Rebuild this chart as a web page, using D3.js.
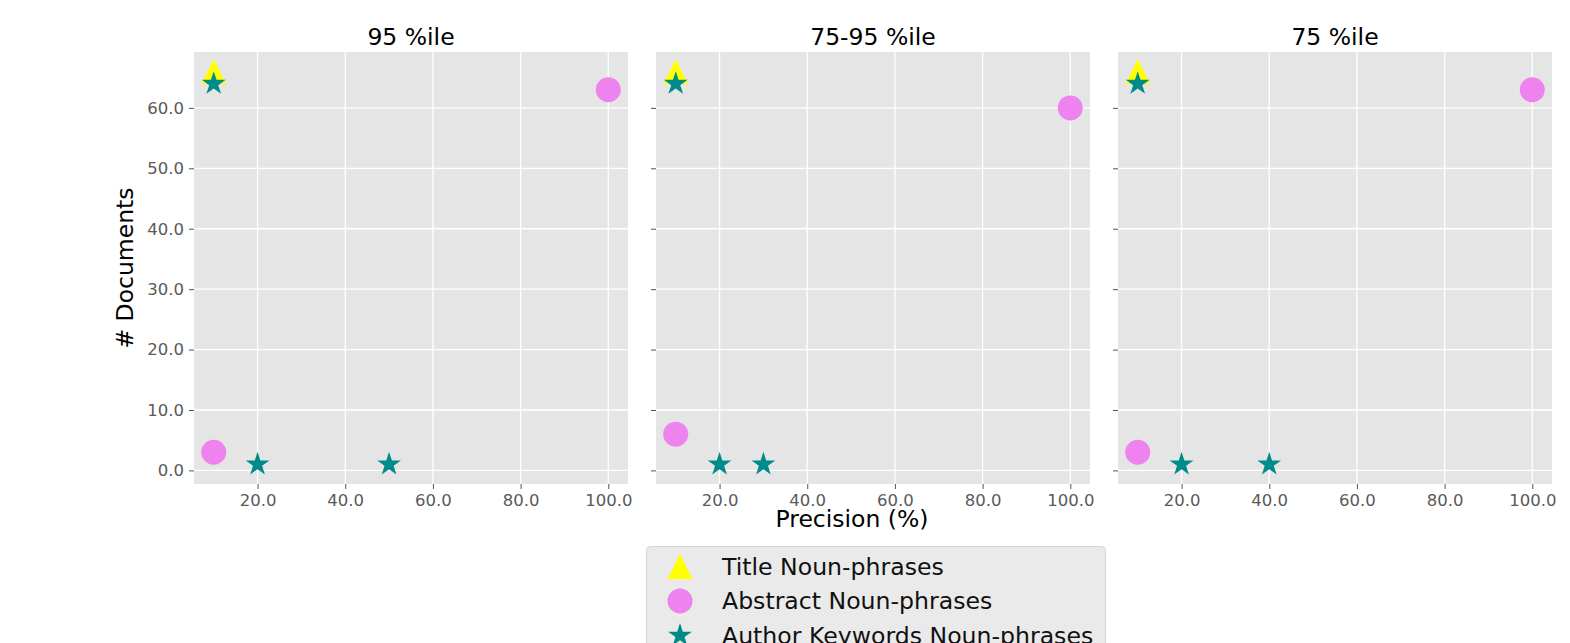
<!DOCTYPE html>
<meta charset="utf-8">
<script src="https://d3js.org/d3.v7.min.js"></script>
<style>
  body { margin: 0; background: #fff; }
  text { font-family: "DejaVu Sans", sans-serif; }
</style>
<div id="my_dataviz"></div>
<script>

// data
const panelTitles = ["95 %ile", "75-95 %ile", "75 %ile"];
const seriesNames = ["Title Noun-phrases", "Abstract Noun-phrases", "Author Keywords Noun-phrases"];
const seriesColors = ["#ffff00", "#ee82ee", "#008b8b"];

const titleX = [[10], [10], [10]];
const titleY = [[66], [66], [66]];
const abstractX = [[10, 100], [10, 100], [10, 100]];
const abstractY = [[3, 63], [6, 60], [3, 63]];
const keywordX = [[10, 20, 50], [10, 20, 30], [10, 20, 40]];
const keywordY = [[64, 1, 1], [64, 1, 1], [64, 1, 1]];

const xTicks = [20, 40, 60, 80, 100];
const yTicks = [0, 10, 20, 30, 40, 50, 60];

// layout
const W = 1570, H = 643;
const panelLeft = [194, 656, 1118];
const panelW = 434, plotTop = 52, panelH = 432;

const svg = d3.select("#my_dataviz")
    .append("svg")
    .attr("width", W)
    .attr("height", H);

// matplotlib-like marker shapes (all 25px across)
const ms = 25;
const triangleUp = {
  draw(ctx, size) {
    const r = Math.sqrt(size) / 2;
    ctx.moveTo(0, -r); ctx.lineTo(r, r); ctx.lineTo(-r, r); ctx.closePath();
  }
};
const circle = {
  draw(ctx, size) {
    const r = Math.sqrt(size) / 2;
    ctx.moveTo(r, 0); ctx.arc(0, 0, r, 0, 2 * Math.PI);
  }
};
const star = {
  draw(ctx, size) {
    const R = Math.sqrt(size) / 2, ri = R * 0.381966;
    for (let i = 0; i < 10; i++) {
      const a = -Math.PI / 2 + i * Math.PI / 5;
      const r = i % 2 ? ri : R;
      if (i === 0) ctx.moveTo(r * Math.cos(a), r * Math.sin(a));
      else ctx.lineTo(r * Math.cos(a), r * Math.sin(a));
    }
    ctx.closePath();
  }
};
const shapes = [triangleUp, circle, star];
const seriesX = [titleX, abstractX, keywordX];
const seriesY = [titleY, abstractY, keywordY];

const y = d3.scaleLinear().domain([-2.25, 69.25]).range([plotTop + panelH, plotTop]);

panelTitles.forEach((title, p) => {
  const x = d3.scaleLinear().domain([5.5, 104.5]).range([panelLeft[p], panelLeft[p] + panelW]);
  const g = svg.append("g");

  g.append("rect")
      .attr("x", panelLeft[p]).attr("y", plotTop)
      .attr("width", panelW).attr("height", panelH)
      .attr("fill", "#e5e5e5");

  // grid
  g.selectAll("vgrid").data(xTicks).enter().append("line")
      .attr("x1", d => x(d)).attr("x2", d => x(d))
      .attr("y1", plotTop).attr("y2", plotTop + panelH)
      .attr("stroke", "#fff").attr("stroke-width", 1.3);
  g.selectAll("hgrid").data(yTicks).enter().append("line")
      .attr("x1", panelLeft[p]).attr("x2", panelLeft[p] + panelW)
      .attr("y1", d => y(d)).attr("y2", d => y(d))
      .attr("stroke", "#fff").attr("stroke-width", 1.3);

  // axes
  const xAxis = g.append("g")
      .attr("transform", `translate(0,${plotTop + panelH})`)
      .call(d3.axisBottom(x).tickValues(xTicks).tickFormat(d3.format(".1f")).tickSize(5).tickPadding(5));
  const yAxis = g.append("g")
      .attr("transform", `translate(${panelLeft[p]},0)`)
      .call(d3.axisLeft(y).tickValues(yTicks).tickFormat(p === 0 ? d3.format(".1f") : () => "").tickSize(5).tickPadding(5));
  [xAxis, yAxis].forEach(a => {
    a.select(".domain").remove();
    a.selectAll(".tick line").attr("stroke", "#555");
    a.selectAll(".tick text").attr("fill", "#5a5a5a").style("font-size", "16.5px")
        .style("font-family", "DejaVu Sans, sans-serif");
  });

  // title
  g.append("text")
      .attr("x", panelLeft[p] + panelW / 2).attr("y", 45)
      .attr("text-anchor", "middle")
      .style("font-size", "23.5px")
      .text(title);

  // markers
  shapes.forEach((shape, s) => {
    const pts = seriesX[s][p].map((v, i) => [v, seriesY[s][p][i]]);
    g.selectAll("pts").data(pts).enter().append("path")
        .attr("d", d3.symbol(shape, ms * ms))
        .attr("transform", d => `translate(${x(d[0])},${y(d[1])})`)
        .attr("fill", seriesColors[s]);
  });
});

// axis labels
svg.append("text")
    .attr("x", 852).attr("y", 527)
    .attr("text-anchor", "middle")
    .style("font-size", "23.5px")
    .text("Precision (%)");
svg.append("text")
    .attr("transform", `translate(133,${plotTop + panelH / 2}) rotate(-90)`)
    .attr("text-anchor", "middle")
    .style("font-size", "23.5px")
    .text("# Documents");

// legend
const legend = svg.append("g");
legend.append("rect")
    .attr("x", 646.5).attr("y", 546.5)
    .attr("width", 459).attr("height", 130)
    .attr("rx", 4)
    .attr("fill", "#eaeaea")
    .attr("stroke", "#d6d6d6");
seriesNames.forEach((name, s) => {
  const cy = 566.5 + s * 34.5;
  legend.append("path")
      .attr("d", d3.symbol(shapes[s], ms * ms))
      .attr("transform", `translate(680,${cy})`)
      .attr("fill", seriesColors[s]);
  legend.append("text")
      .attr("x", 722).attr("y", cy + 8)
      .style("font-size", "23.6px")
      .attr("fill", "#111")
      .text(name);
});

</script>
